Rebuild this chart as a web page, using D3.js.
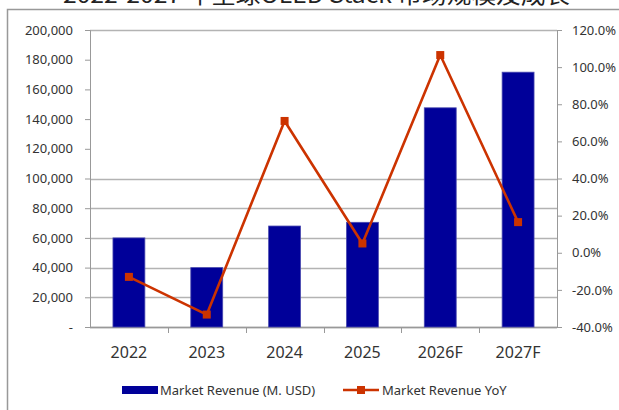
<!DOCTYPE html>
<html>
<head>
<meta charset="utf-8">
<script src="https://cdn.jsdelivr.net/npm/d3@7"></script>
<style>
  body { margin: 0; background: #fff; }
  svg { display: block; font-family: "Noto Sans", "Noto Sans CJK SC", sans-serif; }
</style>
</head>
<body>
<div id="chart"></div>
<script>
        // Data
        const years = ["2022", "2023", "2024", "2025", "2026F", "2027F"];
        const revenue = [60000, 40000, 68000, 70500, 147600, 171600];
        const yoy = [-13, -33.3, 71, 5, 106.5, 16.5];
        const leftTicks = [0, 20000, 40000, 60000, 80000, 100000, 120000, 140000, 160000, 180000, 200000];
        const rightTicks = [-40, -20, 0, 20, 40, 60, 80, 100, 120];
        const gridTicks = [0, 20000, 40000, 60000, 80000, 100000, 200000];

        const width = 619;
        const height = 410;
        const plot = { left: 90, right: 557, top: 30, bottom: 327 };

        const svg = d3.select("#chart")
            .append("svg")
            .attr("width", width)
            .attr("height", height);

        // Outer frame (only left and top edges visible)
        svg.append("path")
            .attr("d", `M7.5,${height} V9.5 H${width}`)
            .attr("fill", "none")
            .attr("stroke", "#999")
            .attr("stroke-width", 1.5);

        // Title, mostly cut off at the top
        svg.append("text")
            .attr("x", 63)
            .attr("y", 3)
            .attr("textLength", 507)
            .attr("lengthAdjust", "spacingAndGlyphs")
            .attr("font-size", 22)
            .attr("font-family", "'Noto Sans CJK SC', sans-serif")
            .attr("fill", "#222")
            .text("2022-2027 年全球OLED Stack 市场规模及成长");

        const x = d3.scaleBand()
            .domain(years)
            .range([plot.left, plot.right])
            .paddingInner(0.59)
            .paddingOuter(0.295);

        const yLeft = d3.scaleLinear()
            .domain([0, 200000])
            .range([plot.bottom, plot.top]);

        const yRight = d3.scaleLinear()
            .domain([-40, 120])
            .range([plot.bottom, plot.top]);

        // Gridlines
        svg.append("g")
            .selectAll("line")
            .data(gridTicks)
            .enter()
            .append("line")
            .attr("x1", plot.left)
            .attr("x2", plot.right)
            .attr("y1", d => Math.round(yLeft(d)) + 0.5)
            .attr("y2", d => Math.round(yLeft(d)) + 0.5)
            .attr("stroke", "#b3b3b3")
            .attr("stroke-width", 1.3);

        // Left axis
        const axisLeft = svg.append("g")
            .attr("transform", `translate(${plot.left},0)`)
            .call(d3.axisLeft(yLeft)
                .tickValues(leftTicks)
                .tickSize(5)
                .tickPadding(12)
                .tickFormat(d => d === 0 ? "-" : d3.format(",")(d)));

        // Right axis
        const axisRight = svg.append("g")
            .attr("transform", `translate(${plot.right},0)`)
            .call(d3.axisRight(yRight)
                .tickValues(rightTicks)
                .tickSize(5)
                .tickPadding(10)
                .tickFormat(d => d.toFixed(1) + "%"));

        [axisLeft, axisRight].forEach(a => {
            a.select(".domain").attr("stroke", "#999");
            a.selectAll(".tick line").attr("stroke", "#999");
            a.selectAll(".tick text")
                .attr("font-size", 13)
                .attr("fill", "#333")
                .attr("font-family", "'Noto Sans', sans-serif");
        });

        // Bottom axis line and ticks at category boundaries
        const step = x.step();
        const boundaries = d3.range(years.length + 1).map(i => plot.left + i * step);
        svg.append("line")
            .attr("x1", plot.left)
            .attr("x2", plot.right)
            .attr("y1", plot.bottom + 0.5)
            .attr("y2", plot.bottom + 0.5)
            .attr("stroke", "#999")
            .attr("stroke-width", 1.3);
        svg.append("g")
            .selectAll("line")
            .data(boundaries.slice(1, -1))
            .enter()
            .append("line")
            .attr("x1", d => Math.round(d) + 0.5)
            .attr("x2", d => Math.round(d) + 0.5)
            .attr("y1", plot.bottom)
            .attr("y2", plot.bottom + 6)
            .attr("stroke", "#999");

        // Category labels
        svg.append("g")
            .selectAll("text")
            .data(years)
            .enter()
            .append("text")
            .attr("x", d => x(d) + x.bandwidth() / 2)
            .attr("y", 358)
            .attr("text-anchor", "middle")
            .attr("font-size", 16)
            .attr("fill", "#333")
            .text(d => d);

        // Bars
        svg.append("g")
            .selectAll("rect")
            .data(years)
            .enter()
            .append("rect")
            .attr("x", d => x(d))
            .attr("y", (d, i) => yLeft(revenue[i]))
            .attr("width", x.bandwidth())
            .attr("height", (d, i) => plot.bottom - yLeft(revenue[i]))
            .attr("fill", "#000099")
            .attr("stroke", "#4a4ab0")
            .attr("stroke-width", 0.8);

        // YoY line
        const cx = d => x(d) + x.bandwidth() / 2;
        const line = d3.line()
            .x(d => cx(d))
            .y((d, i) => yRight(yoy[i]));

        svg.append("path")
            .datum(years)
            .attr("d", line)
            .attr("fill", "none")
            .attr("stroke", "#cc3300")
            .attr("stroke-width", 2.6)
            .attr("stroke-linejoin", "round");

        svg.append("g")
            .selectAll("rect")
            .data(years)
            .enter()
            .append("rect")
            .attr("x", d => cx(d) - 4)
            .attr("y", (d, i) => yRight(yoy[i]) - 4)
            .attr("width", 8)
            .attr("height", 8)
            .attr("fill", "#cc3300");

        // Legend
        const legend = svg.append("g").attr("font-size", 13).attr("fill", "#333");
        legend.append("rect")
            .attr("x", 122)
            .attr("y", 386)
            .attr("width", 36)
            .attr("height", 8)
            .attr("fill", "#000099");
        legend.append("text")
            .attr("x", 160)
            .attr("y", 395)
            .attr("fill", "#333")
            .text("Market Revenue (M. USD)");
        legend.append("line")
            .attr("x1", 343)
            .attr("x2", 379)
            .attr("y1", 390)
            .attr("y2", 390)
            .attr("stroke", "#cc3300")
            .attr("stroke-width", 2.6);
        legend.append("rect")
            .attr("x", 357)
            .attr("y", 386)
            .attr("width", 8)
            .attr("height", 8)
            .attr("fill", "#cc3300");
        legend.append("text")
            .attr("x", 382)
            .attr("y", 395)
            .attr("fill", "#333")
            .text("Market Revenue YoY");
</script>
</body>
</html>
